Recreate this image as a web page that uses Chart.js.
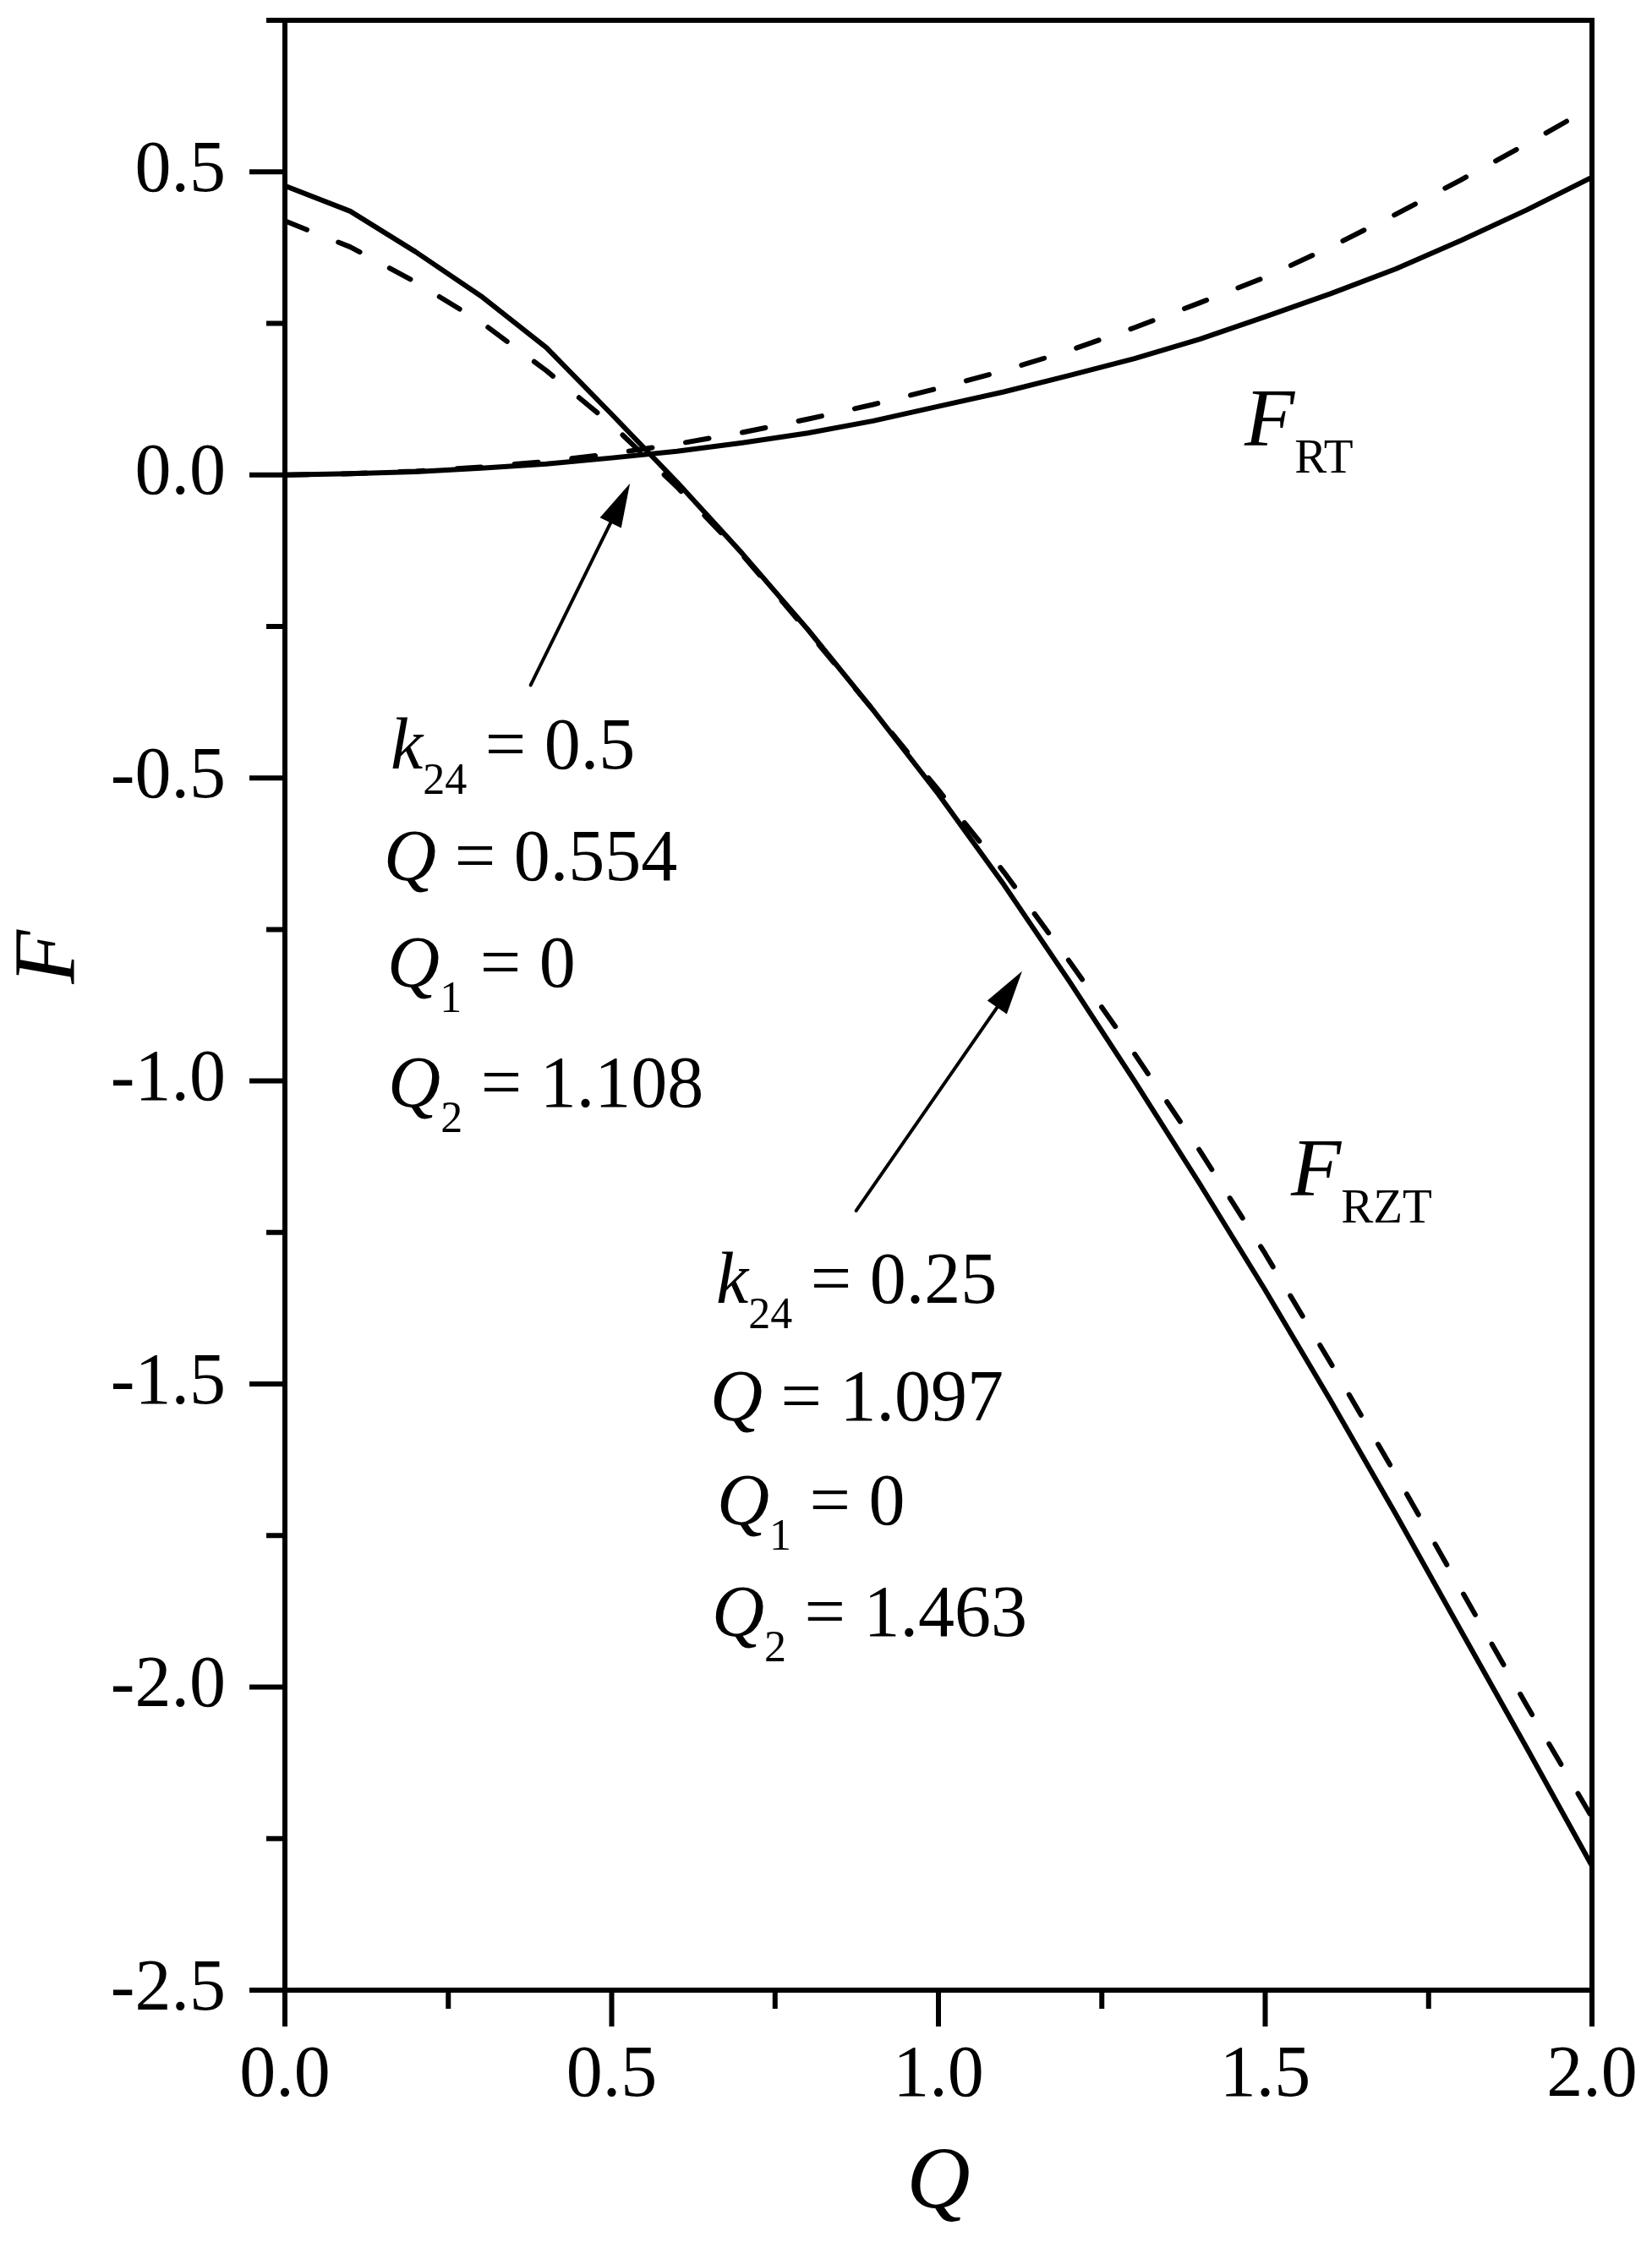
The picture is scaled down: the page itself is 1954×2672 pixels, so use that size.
<!DOCTYPE html>
<html>
<head>
<meta charset="utf-8">
<script src="https://cdn.jsdelivr.net/npm/chart.js@4.4.1/dist/chart.umd.min.js"></script>
<style>
html,body{margin:0;padding:0;background:#ffffff;}
canvas{display:block;}
</style>
</head>
<body>
<canvas id="chart" width="1954" height="2672" style="width:1954px;height:2672px"></canvas>
<script>
// ---------------- data ----------------
const Q_VALUES = [0.0, 0.1, 0.2, 0.3, 0.4, 0.5, 0.6, 0.7, 0.8, 0.9, 1.0,
                  1.1, 1.2, 1.3, 1.4, 1.5, 1.6, 1.7, 1.8, 1.9, 2.0];
const F_RZT_SOLID  = [0.477, 0.435, 0.368, 0.295, 0.210, 0.100, -0.012, -0.130, -0.255, -0.388, -0.527,
                      -0.676, -0.835, -1.000, -1.170, -1.345, -1.527, -1.715, -1.908, -2.100, -2.295];
const F_RZT_DASHED = [0.419, 0.376, 0.318, 0.252, 0.172, 0.083, -0.020, -0.132, -0.258, -0.388, -0.520,
                      -0.655, -0.802, -0.955, -1.115, -1.285, -1.465, -1.650, -1.840, -2.030, -2.215];
const F_RT_SOLID   = [0.000, 0.002, 0.005, 0.011, 0.018, 0.028, 0.039, 0.053, 0.069, 0.089, 0.113,
                      0.137, 0.164, 0.192, 0.224, 0.261, 0.299, 0.340, 0.387, 0.437, 0.491];
const F_RT_DASHED  = [0.000, 0.002, 0.006, 0.013, 0.022, 0.035, 0.051, 0.070, 0.092, 0.116, 0.143,
                      0.172, 0.205, 0.243, 0.284, 0.326, 0.376, 0.430, 0.487, 0.546, 0.607];
const X_TICK_LABELS = ['0.0', '0.5', '1.0', '1.5', '2.0'];
const Y_TICK_LABELS = ['-2.5', '-2.0', '-1.5', '-1.0', '-0.5', '0.0', '0.5'];

// ---------------- styling / layout ----------------
const SERIF = "'Liberation Serif','Times New Roman',serif";
const BLACK = '#000000';

function labelFor(list, v) {
  for (const s of list) { if (Math.abs(parseFloat(s) - v) < 1e-6) return s; }
  return '';
}
function isMajor(v) { return Math.abs(v * 2 - Math.round(v * 2)) < 1e-6; }
function series(arr) { return Q_VALUES.map((q, i) => ({x: q, y: arr[i]})); }

// annotation text blocks, anchored in data coordinates
const NOTES = [
  {q: [0.1617, 0.1514, 0.1566, 0.1579], f: [-0.4846, -0.6687, -0.8445, -1.0425],
   lines: [[{t: 'k', it: 1}, {t: '24', sub: 1}, {t: ' = 0.5'}],
           [{t: 'Q', it: 1}, {t: ' = 0.554'}],
           [{t: 'Q', it: 1}, {t: '1', sub: 1}, {t: ' = 0'}],
           [{t: 'Q', it: 1}, {t: '2', sub: 1}, {t: ' = 1.108'}]]},
  {q: [0.6598, 0.6507, 0.6610, 0.6533], f: [-1.3662, -1.5601, -1.7316, -1.9158],
   lines: [[{t: 'k', it: 1}, {t: '24', sub: 1}, {t: ' = 0.25'}],
           [{t: 'Q', it: 1}, {t: ' = 1.097'}],
           [{t: 'Q', it: 1}, {t: '1', sub: 1}, {t: ' = 0'}],
           [{t: 'Q', it: 1}, {t: '2', sub: 1}, {t: ' = 1.463'}]]}
];
const CURVE_LABELS = [
  {q: 1.4683, f: 0.0483, runs: [{t: 'F', it: 1}, {t: 'RT', sub: 1}]},
  {q: 1.5395, f: -1.189, runs: [{t: 'F', it: 1}, {t: 'RZT', sub: 1}]}
];
const ARROWS = [
  {from: [0.376, -0.347], to: [0.528, -0.014]},
  {from: [0.874, -1.214], to: [1.128, -0.819]}
];

function drawRuns(ctx, x, y, runs, size, subSize, subDrop) {
  let cx = x;
  for (const r of runs) {
    const sz = r.sub ? subSize : size;
    ctx.font = (r.it ? 'italic ' : '') + sz + 'px ' + SERIF;
    ctx.fillText(r.t, cx, r.sub ? y + subDrop : y);
    cx += ctx.measureText(r.t).width;
  }
}

const decorPlugin = {
  id: 'decor',
  afterDatasetsDraw(chart) {
    const ctx = chart.ctx;
    const xs = chart.scales.x, ys = chart.scales.y;
    const a = chart.chartArea;
    ctx.save();
    ctx.strokeStyle = BLACK;
    ctx.fillStyle = BLACK;

    // frame
    ctx.lineWidth = 6;
    ctx.lineJoin = 'miter';
    ctx.strokeRect(a.left, a.top, a.right - a.left, a.bottom - a.top);

    // outward tick marks (major + minor), from the library's ticks
    ctx.lineWidth = 6;
    ctx.lineCap = 'butt';
    ctx.beginPath();
    for (const t of xs.ticks) {
      const px = xs.getPixelForValue(t.value);
      ctx.moveTo(px, a.bottom);
      ctx.lineTo(px, a.bottom + (isMajor(t.value) ? 43 : 22));
    }
    for (const t of ys.ticks) {
      const py = ys.getPixelForValue(t.value);
      ctx.moveTo(a.left, py);
      ctx.lineTo(a.left - (isMajor(t.value) ? 42 : 22), py);
    }
    ctx.stroke();

    // y axis title
    ctx.save();
    ctx.translate(a.left - 249, (a.top + a.bottom) / 2 - 57);
    ctx.rotate(-Math.PI / 2);
    ctx.font = 'italic 104px ' + SERIF;
    ctx.textAlign = 'center';
    ctx.textBaseline = 'alphabetic';
    ctx.fillText('F', 0, 0);
    ctx.restore();

    // text blocks
    ctx.textAlign = 'left';
    ctx.textBaseline = 'alphabetic';
    for (const n of NOTES) {
      n.lines.forEach((runs, i) => {
        drawRuns(ctx, xs.getPixelForValue(n.q[i]), ys.getPixelForValue(n.f[i]), runs, 86, 52, 30);
      });
    }
    for (const c of CURVE_LABELS) {
      drawRuns(ctx, xs.getPixelForValue(c.q), ys.getPixelForValue(c.f), c.runs, 97, 57, 32);
    }

    // arrows
    for (const ar of ARROWS) {
      const x0 = xs.getPixelForValue(ar.from[0]), y0 = ys.getPixelForValue(ar.from[1]);
      const x1 = xs.getPixelForValue(ar.to[0]), y1 = ys.getPixelForValue(ar.to[1]);
      const dx = x1 - x0, dy = y1 - y0, len = Math.hypot(dx, dy);
      const ux = dx / len, uy = dy / len;
      const headLen = 52, headHalf = 14;
      const bx = x1 - ux * headLen, by = y1 - uy * headLen;
      ctx.lineWidth = 4;
      ctx.lineCap = 'round';
      ctx.beginPath();
      ctx.moveTo(x0, y0);
      ctx.lineTo(bx + ux * 4, by + uy * 4);
      ctx.stroke();
      ctx.beginPath();
      ctx.moveTo(x1, y1);
      ctx.lineTo(bx - uy * headHalf, by + ux * headHalf);
      ctx.lineTo(bx + uy * headHalf, by - ux * headHalf);
      ctx.closePath();
      ctx.fill();
    }
    ctx.restore();
  }
};

const solidStyle = {borderColor: BLACK, borderWidth: 6, pointRadius: 0, fill: false,
                    tension: 0, borderJoinStyle: 'round', borderCapStyle: 'round'};
const dashedStyle = Object.assign({}, solidStyle, {borderDash: [28, 40]});

new Chart(document.getElementById('chart'), {
  type: 'line',
  data: {
    datasets: [
      Object.assign({label: 'F_RZT (solid)', data: series(F_RZT_SOLID)}, solidStyle),
      Object.assign({label: 'F_RZT (dashed)', data: series(F_RZT_DASHED)}, dashedStyle),
      Object.assign({label: 'F_RT (solid)', data: series(F_RT_SOLID)}, solidStyle),
      Object.assign({label: 'F_RT (dashed)', data: series(F_RT_DASHED)}, dashedStyle)
    ]
  },
  options: {
    responsive: false,
    animation: false,
    devicePixelRatio: 1,
    layout: {padding: {left: 0, top: 24, right: 71, bottom: 0}},
    plugins: {legend: {display: false}, tooltip: {enabled: false}},
    scales: {
      x: {
        type: 'linear', position: 'bottom', min: 0, max: 2,
        grid: {display: false, drawTicks: false, tickLength: 0},
        border: {display: false},
        ticks: {
          stepSize: 0.25, autoSkip: false, maxRotation: 0, padding: 51, color: BLACK,
          font: {family: SERIF, size: 86},
          callback: (v) => isMajor(v) ? labelFor(X_TICK_LABELS, v) : ''
        },
        title: {display: true, text: 'Q', color: BLACK,
                font: {family: SERIF, size: 104, style: 'italic'},
                padding: {top: 0, bottom: 26}},
        afterFit: (s) => { s.height = 318; s.paddingLeft = 0; s.paddingRight = 0; }
      },
      y: {
        type: 'linear', position: 'left', min: -2.5, max: 0.75,
        grid: {display: false, drawTicks: false, tickLength: 0},
        border: {display: false},
        ticks: {
          stepSize: 0.25, autoSkip: false, padding: 70, color: BLACK,
          font: {family: SERIF, size: 86},
          callback: (v) => isMajor(v) ? labelFor(Y_TICK_LABELS, v) : ''
        },
        afterFit: (s) => { s.width = 337; s.paddingTop = 0; s.paddingBottom = 0; }
      }
    }
  },
  plugins: [decorPlugin]
});
</script>
</body>
</html>
